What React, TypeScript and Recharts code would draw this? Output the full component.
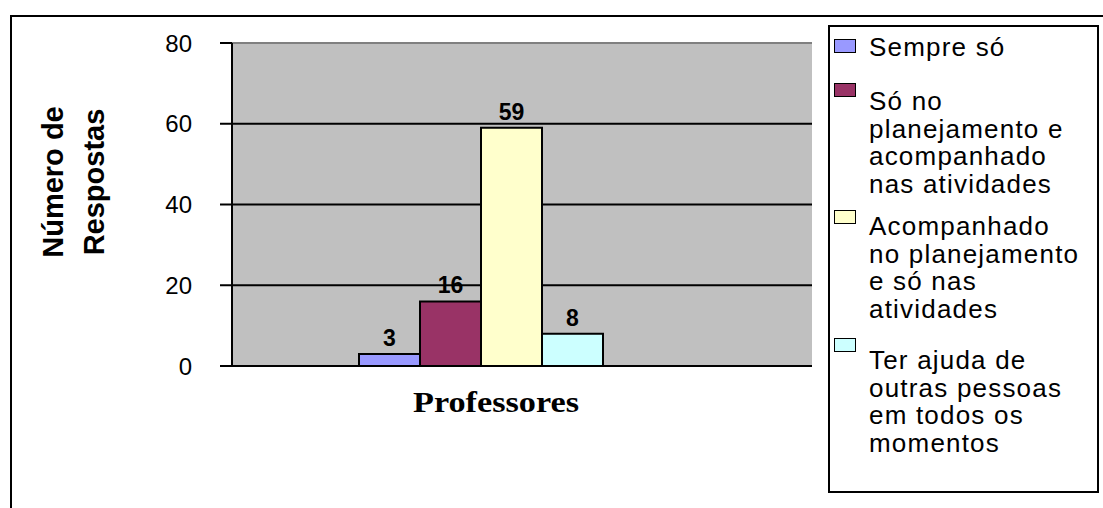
import { BarChart, Bar, XAxis, YAxis, CartesianGrid, ReferenceLine, LabelList } from "recharts";

// data
const categories = ["Professores"];
const seriesNames = [
  "Sempre só",
  "Só no planejamento e acompanhado nas atividades",
  "Acompanhado no planejamento e só nas atividades",
  "Ter ajuda de outras pessoas em todos os momentos",
];
const seriesValues = [[3], [16], [59], [8]];
const seriesColors = ["#9999FF", "#993366", "#FFFFCC", "#CCFFFF"];
const legendLines = [
  ["Sempre só"],
  ["Só no", "planejamento e", "acompanhado", "nas atividades"],
  ["Acompanhado", "no planejamento", "e só nas", "atividades"],
  ["Ter ajuda de", "outras pessoas", "em todos os", "momentos"],
];
const yTicks = [0, 20, 40, 60, 80];
const yTitle = ["Número de", "Respostas"];

const data = categories.map((name, i) => {
  const row: Record<string, string | number> = { name };
  seriesValues.forEach((vals, s) => {
    row[`s${s}`] = vals[i];
  });
  return row;
});

const SANS = "'Liberation Sans', Arial, sans-serif";

// vertical placement of legend entries inside the box
const legendTextTops = [7, 61, 186, 320];
const legendSwatchTops = [12, 56, 183, 311];

function CategoryTick({ x, y, payload }: any) {
  return (
    <text
      x={x + 15}
      y={y + 46}
      textAnchor="middle"
      fontFamily="'Liberation Serif', 'Times New Roman', serif"
      fontWeight="bold"
      fontSize={30}
      fill="#000"
      textLength={166}
      lengthAdjust="spacingAndGlyphs"
    >
      {payload.value}
    </text>
  );
}

function YTitle() {
  return (
    <text
      transform="translate(0,182) rotate(-90)"
      textAnchor="middle"
      fontFamily={SANS}
      fontWeight="bold"
      fontSize={29}
      fill="#000"
    >
      <tspan x={0} y={63}>{yTitle[0]}</tspan>
      <tspan x={0} y={104}>{yTitle[1]}</tspan>
    </text>
  );
}

export default function App() {
  return (
    <div style={{ position: "absolute", left: 0, top: 0, width: 1103, height: 508, background: "#fff", overflow: "hidden" }}>
      {/* outer frame, cut off at right and bottom */}
      <div
        style={{
          position: "absolute",
          left: 10,
          top: 15,
          width: 1110,
          height: 510,
          borderLeft: "2px solid #000",
          borderTop: "2px solid #000",
          boxSizing: "border-box",
        }}
      />
      <div style={{ position: "absolute", left: 0, top: 0 }}>
        <BarChart
          width={1103}
          height={508}
          data={data}
          margin={{ top: 43, right: 291, bottom: 0, left: 0 }}
          barGap={0}
          barSize={61}
        >
          <CartesianGrid
            vertical={false}
            fill="#C0C0C0"
            fillOpacity={1}
            stroke="#000"
            strokeWidth={2}
          />
          <XAxis
            dataKey="name"
            height={142}
            padding={{ left: 0, right: 82 }}
            tickLine={false}
            tickSize={0}
            tickMargin={0}
            axisLine={{ stroke: "#000", strokeWidth: 2 }}
            tick={<CategoryTick />}
          />
          <YAxis
            width={232}
            domain={[0, 80]}
            ticks={yTicks}
            interval={0}
            tickSize={12}
            tickMargin={28}
            axisLine={{ stroke: "#000", strokeWidth: 2 }}
            tickLine={{ stroke: "#000", strokeWidth: 2 }}
            tick={{ fill: "#000", fontSize: 24, fontFamily: SANS }}
            label={<YTitle />}
          />
          <YAxis
            yAxisId="r"
            orientation="right"
            width={0}
            domain={[0, 80]}
            tick={false}
            tickLine={false}
            axisLine={{ stroke: "#808080", strokeWidth: 2 }}
          />
          <ReferenceLine y={80} stroke="#808080" strokeWidth={2} />
          {seriesNames.map((n, s) => (
            <Bar
              key={n}
              dataKey={`s${s}`}
              name={n}
              fill={seriesColors[s]}
              stroke="#000"
              strokeWidth={2}
              isAnimationActive={false}
            >
              <LabelList
                dataKey={`s${s}`}
                position="top"
                offset={8}
                fill="#000"
                fontSize={23}
                fontWeight="bold"
                fontFamily={SANS}
              />
            </Bar>
          ))}
        </BarChart>
      </div>
      {/* legend box */}
      <div
        style={{
          position: "absolute",
          left: 828,
          top: 25,
          width: 271,
          height: 468,
          border: "2px solid #000",
          boxSizing: "border-box",
          fontFamily: SANS,
          fontSize: 26,
          letterSpacing: 1.2,
          color: "#000",
        }}
      >
        {legendLines.map((lines, s) => (
          <div key={s}>
            <div
              style={{
                position: "absolute",
                left: 4,
                top: legendSwatchTops[s],
                width: 22,
                height: 14,
                background: seriesColors[s],
                border: "1.5px solid #000",
                boxSizing: "border-box",
              }}
            />
            <div
              style={{
                position: "absolute",
                left: 39,
                top: legendTextTops[s],
                lineHeight: "27.5px",
                whiteSpace: "nowrap",
              }}
            >
              {lines.map((l, i) => (
                <div key={i}>{l}</div>
              ))}
            </div>
          </div>
        ))}
      </div>
    </div>
  );
}
